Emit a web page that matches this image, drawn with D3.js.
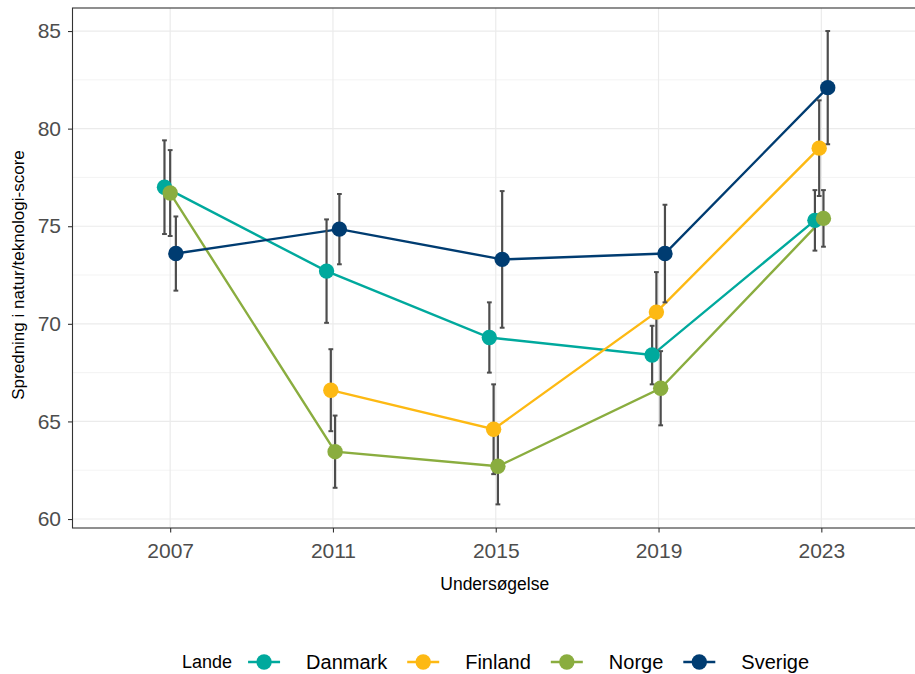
<!DOCTYPE html>
<html>
<head>
<meta charset="utf-8">
<script src="https://cdn.jsdelivr.net/npm/d3@7"></script>
<style>
  html, body { margin: 0; padding: 0; background: #fff; }
  svg { display: block; font-family: "Liberation Sans", Arial, sans-serif; }
</style>
</head>
<body>
<svg id="chart" width="915" height="674"></svg>
<script>
// ---- data ----
const years = ["2007", "2011", "2015", "2019", "2023"];
const countries = ["Danmark", "Finland", "Norge", "Sverige"];
const colors = ["#00A99D", "#FDB913", "#8AAD3F", "#003C71"];
const danmark      = [77.0, 72.7, 69.3, 68.4, 75.3];
const danmarkErr   = [2.4, 2.65, 1.8, 1.5, 1.55];
const finland      = [null, 66.6, 64.6, 70.6, 79.0];
const finlandErr   = [null, 2.1, 2.3, 2.05, 2.45];
const norge        = [76.7, 63.45, 62.7, 66.7, 75.4];
const norgeErr     = [2.2, 1.85, 1.95, 1.9, 1.45];
const sverige      = [73.6, 74.85, 73.3, 73.6, 82.1];
const sverigeErr   = [1.9, 1.8, 3.5, 2.5, 2.9];
const yTicks = [60, 65, 70, 75, 80, 85];
const yMinor = [62.5, 67.5, 72.5, 77.5, 82.5];

const valueSets = [danmark, finland, norge, sverige];
const errSets = [danmarkErr, finlandErr, norgeErr, sverigeErr];

const series = countries.map((c, i) => ({
  name: c, color: colors[i],
  pts: years.map((y, j) => ({ year: y, v: valueSets[i][j], e: errSets[i][j] }))
           .filter(d => d.v != null)
}));

// ---- layout ----
const svg = d3.select("#chart");
const L = 72.5, R = 919, T = 8, B = 528;

const x = d3.scalePoint().domain(years).range([L, R]).padding(0.6);
const unit = x.step();
const y = d3.scaleLinear().domain([59.54, 86.18]).range([B, T]);

// dodge
const dodgeW = 0.105 * unit;
const offsets = {};
years.forEach((yr, j) => {
  const present = countries.filter((c, i) => valueSets[i][j] != null);
  const n = present.length;
  present.forEach((c, k) => {
    offsets[c + yr] = -dodgeW / 2 + dodgeW / n * (k + 0.5);
  });
});
const px = (c, d) => x(d.year) + offsets[c + d.year];

// grid
const g = svg.append("g");
g.selectAll(".minor").data(yMinor).join("line")
  .attr("x1", L).attr("x2", R).attr("y1", d => y(d)).attr("y2", d => y(d))
  .attr("stroke", "#EBEBEB").attr("stroke-width", 0.6);
g.selectAll(".major").data(yTicks).join("line")
  .attr("x1", L).attr("x2", R).attr("y1", d => y(d)).attr("y2", d => y(d))
  .attr("stroke", "#EBEBEB").attr("stroke-width", 1.2);
g.selectAll(".vmajor").data(years).join("line")
  .attr("x1", d => x(d)).attr("x2", d => x(d)).attr("y1", T).attr("y2", B)
  .attr("stroke", "#EBEBEB").attr("stroke-width", 1.2);

// lines
const line = d3.line();
series.forEach(s => {
  svg.append("path")
    .attr("d", line(s.pts.map(d => [px(s.name, d), y(d.v)])))
    .attr("fill", "none").attr("stroke", s.color).attr("stroke-width", 2.4);
});

// error bars
const ebColor = "#4D4D4D";
series.forEach(s => {
  const eg = svg.append("g");
  s.pts.forEach(d => {
    const cx = px(s.name, d);
    eg.append("line").attr("x1", cx).attr("x2", cx)
      .attr("y1", y(d.v + d.e)).attr("y2", y(d.v - d.e))
      .attr("stroke", ebColor).attr("stroke-width", 2.2);
    [d.v + d.e, d.v - d.e].forEach(v => {
      eg.append("line").attr("x1", cx - 2.4).attr("x2", cx + 2.4)
        .attr("y1", y(v)).attr("y2", y(v))
        .attr("stroke", ebColor).attr("stroke-width", 2);
    });
  });
});

// points
series.forEach(s => {
  svg.append("g").selectAll("circle").data(s.pts).join("circle")
    .attr("cx", d => px(s.name, d)).attr("cy", d => y(d.v))
    .attr("r", 7.7).attr("fill", s.color);
});

// panel border
svg.append("rect").attr("x", L).attr("y", T).attr("width", R - L).attr("height", B - T)
  .attr("fill", "none").attr("stroke", "#333333").attr("stroke-width", 1.1);

// axes
const yAxis = d3.axisLeft(y).tickValues(yTicks).tickSize(4.5).tickPadding(7);
const ya = svg.append("g").attr("transform", `translate(${L},0)`).call(yAxis);
const xAxis = d3.axisBottom(x).tickSize(4.5).tickPadding(11);
const xa = svg.append("g").attr("transform", `translate(0,${B})`).call(xAxis);
[ya, xa].forEach(a => {
  a.select(".domain").remove();
  a.selectAll(".tick line").attr("stroke", "#333333").attr("stroke-width", 1.1);
  a.selectAll(".tick text").attr("fill", "#4D4D4D")
    .style("font-size", "21px").style("font-family", "Liberation Sans, Arial, sans-serif");
});

// axis titles
svg.append("text").attr("x", (L + R) / 2 - 1).attr("y", 590)
  .attr("text-anchor", "middle").style("font-size", "17.5px").attr("fill", "#000")
  .text("Undersøgelse");
svg.append("text").attr("transform", `translate(24,${(T + B) / 2 + 7}) rotate(-90)`)
  .attr("text-anchor", "middle").style("font-size", "17px").attr("fill", "#000")
  .text("Spredning i natur/teknologi-score");

// legend
const leg = svg.append("g").attr("transform", "translate(0,662)");
let cursor = 182;
const title = leg.append("text").attr("x", cursor).attr("y", 6)
  .style("font-size", "18px").attr("fill", "#000").text("Lande");
cursor += title.node().getComputedTextLength() + 16;
series.forEach((s, i) => {
  const kx = cursor;
  leg.append("line").attr("x1", kx).attr("x2", kx + 32).attr("y1", 0).attr("y2", 0)
    .attr("stroke", s.color).attr("stroke-width", 2.4);
  leg.append("circle").attr("cx", kx + 16).attr("cy", 0).attr("r", 7.7).attr("fill", s.color);
  const t = leg.append("text").attr("x", kx + 32 + 26).attr("y", 7)
    .style("font-size", "20px").attr("fill", "#000").text(s.name);
  cursor = kx + 58 + t.node().getComputedTextLength() + 20;
});
</script>
</body>
</html>
